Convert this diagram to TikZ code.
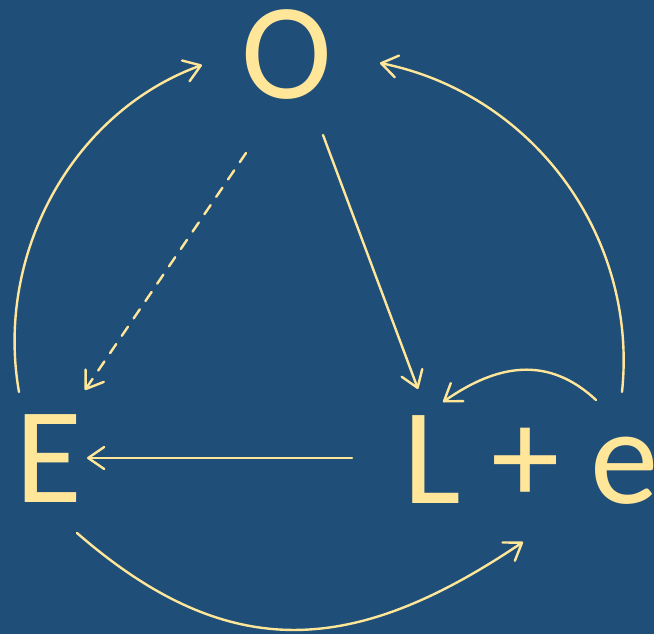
\documentclass[tikz,border=0pt]{standalone}
\usepackage{fontspec}
\setmainfont{Carlito}
\usetikzlibrary{arrows.meta}
\definecolor{bg}{HTML}{1F4E79}
\definecolor{fg}{HTML}{FFE699}
\begin{document}
\begin{tikzpicture}[x=1pt,y=1pt,
  lbl/.style={text=fg, inner sep=0pt, anchor=base, font=\fontsize{137}{137}\selectfont},
  conn/.style={draw=fg, line width=2.4pt, line cap=round, -{Straight Barb[length=16pt,width=22pt,round]}}]
\fill[bg] (0,0) rectangle (654,634);
\useasboundingbox (0,0) rectangle (654,634);
\node[lbl] (O) at (286.5,535) {O};
\node[lbl] (E) at (48.5,131) {E};
\node[lbl, anchor=base west] (L) at (403,130) {L + e};
% endpoints
\coordinate (oE) at (246,481);
\coordinate (eO) at (85,244);
\coordinate (oL) at (323,499);
\coordinate (lO) at (418,245);
\coordinate (lE) at (352,176);
\coordinate (eL) at (87,176);
\coordinate (eTop) at (19,242);
\coordinate (oLeft) at (202,569);
\coordinate (rTop) at (622,242);
\coordinate (oRight) at (380,571);
\coordinate (eBot) at (77,101);
\coordinate (lBot) at (523,92);
\coordinate (sS) at (596,234);
\coordinate (sE) at (443,232);
% connectors
\draw[conn, dash pattern=on 11pt off 10pt] (oE) -- (eO);
\draw[conn] (oL) -- (lO);
\draw[conn] (lE) -- (eL);
\draw[conn] (eTop) to[out=100, in=200, looseness=0.95] (oLeft);
\draw[conn] (rTop) to[out=84, in=348.6, looseness=0.98] (oRight);
\draw[conn] (eBot) to[out=-41, in=214, looseness=1.16] (lBot);
\draw[conn] (sS) to[out=137, in=35, looseness=1.1] (sE);
\end{tikzpicture}
\end{document}
